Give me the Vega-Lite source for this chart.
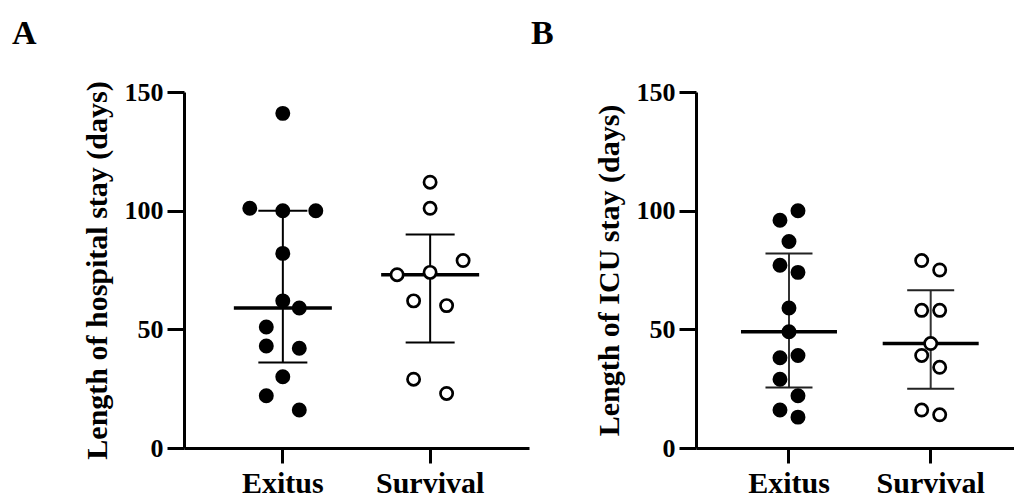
{
  "$schema": "https://vega.github.io/schema/vega-lite/v6.json",
  "autosize": {"type": "pad"},
  "padding": {"left": 12, "top": 17, "right": 0, "bottom": 0},
  "bounds": "flush",
  "spacing": 167,
  "background": "white",
  "config": {
    "view": {"stroke": null},
    "font": "Liberation Serif",
    "axis": {
      "domainColor": "black", "domainWidth": 3, "tickColor": "black", "tickWidth": 3,
      "labelColor": "black", "titleColor": "black",
      "labelFont": "Liberation Serif", "titleFont": "Liberation Serif",
      "labelFontWeight": "bold", "titleFontWeight": "bold",
      "labelFontSize": 26, "titleFontSize": 30, "grid": false
    },
    "axisX": {"tickSize": 15, "labelPadding": 5, "labelAngle": 0, "labelFontSize": 30},
    "axisY": {"tickSize": 17, "labelPadding": 4, "titlePadding": 12},
    "title": {"font": "Liberation Serif", "fontSize": 34, "fontWeight": "bold", "color": "black", "anchor": "start", "frame": "group", "baseline": "alphabetic", "offset": 28}
  },
  "datasets": {
    "hospPoints": [
      {"group": "Exitus", "days": 141, "lane": 0},
      {"group": "Exitus", "days": 101, "lane": -2},
      {"group": "Exitus", "days": 100, "lane": 0},
      {"group": "Exitus", "days": 100, "lane": 2},
      {"group": "Exitus", "days": 82, "lane": 0},
      {"group": "Exitus", "days": 62, "lane": 0},
      {"group": "Exitus", "days": 59, "lane": 1},
      {"group": "Exitus", "days": 51, "lane": -1},
      {"group": "Exitus", "days": 43, "lane": -1},
      {"group": "Exitus", "days": 42, "lane": 1},
      {"group": "Exitus", "days": 30, "lane": 0},
      {"group": "Exitus", "days": 22, "lane": -1},
      {"group": "Exitus", "days": 16, "lane": 1},
      {"group": "Survival", "days": 112, "lane": 0},
      {"group": "Survival", "days": 101, "lane": 0},
      {"group": "Survival", "days": 79, "lane": 2},
      {"group": "Survival", "days": 73, "lane": -2},
      {"group": "Survival", "days": 74, "lane": 0},
      {"group": "Survival", "days": 62, "lane": -1},
      {"group": "Survival", "days": 60, "lane": 1},
      {"group": "Survival", "days": 29, "lane": -1},
      {"group": "Survival", "days": 23, "lane": 1}
    ],
    "hospStats": [
      {"group": "Exitus", "median": 59, "low": 36, "high": 100},
      {"group": "Survival", "median": 73, "low": 44.5, "high": 90}
    ],
    "icuPoints": [
      {"group": "Exitus", "days": 100, "lane": 1},
      {"group": "Exitus", "days": 96, "lane": -1},
      {"group": "Exitus", "days": 87, "lane": 0},
      {"group": "Exitus", "days": 77, "lane": -1},
      {"group": "Exitus", "days": 74, "lane": 1},
      {"group": "Exitus", "days": 59, "lane": 0},
      {"group": "Exitus", "days": 49, "lane": 0},
      {"group": "Exitus", "days": 38, "lane": -1},
      {"group": "Exitus", "days": 39, "lane": 1},
      {"group": "Exitus", "days": 29, "lane": -1},
      {"group": "Exitus", "days": 22, "lane": 1},
      {"group": "Exitus", "days": 16, "lane": -1},
      {"group": "Exitus", "days": 13, "lane": 1},
      {"group": "Survival", "days": 79, "lane": -1},
      {"group": "Survival", "days": 75, "lane": 1},
      {"group": "Survival", "days": 58, "lane": -1},
      {"group": "Survival", "days": 58, "lane": 1},
      {"group": "Survival", "days": 44, "lane": 0},
      {"group": "Survival", "days": 39, "lane": -1},
      {"group": "Survival", "days": 34, "lane": 1},
      {"group": "Survival", "days": 16, "lane": -1},
      {"group": "Survival", "days": 14, "lane": 1}
    ],
    "icuStats": [
      {"group": "Exitus", "median": 49, "low": 25.5, "high": 82},
      {"group": "Survival", "median": 44, "low": 25, "high": 66.5}
    ]
  },
  "resolve": {"scale": {"x": "independent", "y": "independent", "xOffset": "independent", "fill": "independent"}},
  "hconcat": [
    {
      "title": {"text": "A", "dx": -172},
      "width": 345,
      "height": 356,
      "layer": [
        {
          "data": {"name": "hospStats"},
          "mark": {"type": "rule", "color": "black", "strokeWidth": 2},
          "encoding": {
            "x": {"field": "group", "type": "nominal", "scale": {"type": "band", "domain": ["Exitus", "Survival"], "paddingInner": 0, "paddingOuter": 0.171}, "axis": {"title": null}},
            "y": {"field": "low", "type": "quantitative", "scale": {"domain": [0, 150], "nice": false}, "axis": {"values": [0, 50, 100, 150]}, "title": "Length of hospital stay (days)"},
            "y2": {"field": "high"}
          }
        },
        {
          "data": {"name": "hospStats"},
          "mark": {"type": "tick", "orient": "horizontal", "size": 49, "thickness": 2, "color": "black", "opacity": 1},
          "encoding": {
            "x": {"field": "group", "type": "nominal"},
            "y": {"field": "low", "type": "quantitative", "title": "Length of hospital stay (days)"}
          }
        },
        {
          "data": {"name": "hospStats"},
          "mark": {"type": "tick", "orient": "horizontal", "size": 49, "thickness": 2, "color": "black", "opacity": 1},
          "encoding": {
            "x": {"field": "group", "type": "nominal"},
            "y": {"field": "high", "type": "quantitative", "title": "Length of hospital stay (days)"}
          }
        },
        {
          "data": {"name": "hospStats"},
          "mark": {"type": "tick", "orient": "horizontal", "size": 98, "thickness": 3.5, "color": "black", "opacity": 1},
          "encoding": {
            "x": {"field": "group", "type": "nominal"},
            "y": {"field": "median", "type": "quantitative", "title": "Length of hospital stay (days)"}
          }
        },
        {
          "data": {"name": "hospPoints"},
          "mark": {"type": "point", "shape": "circle", "filled": true, "size": 150, "stroke": "black", "strokeWidth": 2.7, "opacity": 1},
          "encoding": {
            "x": {"field": "group", "type": "nominal"},
            "xOffset": {"field": "lane", "type": "quantitative", "scale": {"domain": [-2, 2], "range": [40.6, 106.6]}},
            "y": {"field": "days", "type": "quantitative", "title": "Length of hospital stay (days)"},
            "fill": {"field": "group", "type": "nominal", "scale": {"domain": ["Exitus", "Survival"], "range": ["black", "white"]}, "legend": null}
          }
        }
      ]
    },
    {
      "title": {"text": "B", "dx": -165},
      "width": 318,
      "height": 356,
      "layer": [
        {
          "data": {"name": "icuStats"},
          "mark": {"type": "rule", "color": "#333333", "strokeWidth": 2},
          "encoding": {
            "x": {"field": "group", "type": "nominal", "scale": {"type": "band", "domain": ["Exitus", "Survival"], "paddingInner": 0, "paddingOuter": 0.122, "align": 0.64}, "axis": {"title": null}},
            "y": {"field": "low", "type": "quantitative", "scale": {"domain": [0, 150], "nice": false}, "axis": {"values": [0, 50, 100, 150]}, "title": "Length of ICU stay (days)"},
            "y2": {"field": "high"}
          }
        },
        {
          "data": {"name": "icuStats"},
          "mark": {"type": "tick", "orient": "horizontal", "size": 47, "thickness": 2, "color": "#222222", "opacity": 1},
          "encoding": {
            "x": {"field": "group", "type": "nominal"},
            "y": {"field": "low", "type": "quantitative", "title": "Length of ICU stay (days)"}
          }
        },
        {
          "data": {"name": "icuStats"},
          "mark": {"type": "tick", "orient": "horizontal", "size": 47, "thickness": 2, "color": "#222222", "opacity": 1},
          "encoding": {
            "x": {"field": "group", "type": "nominal"},
            "y": {"field": "high", "type": "quantitative", "title": "Length of ICU stay (days)"}
          }
        },
        {
          "data": {"name": "icuStats"},
          "mark": {"type": "tick", "orient": "horizontal", "size": 96, "thickness": 3.5, "color": "black", "opacity": 1},
          "encoding": {
            "x": {"field": "group", "type": "nominal"},
            "y": {"field": "median", "type": "quantitative", "title": "Length of ICU stay (days)"}
          }
        },
        {
          "data": {"name": "icuPoints"},
          "mark": {"type": "point", "shape": "circle", "filled": true, "size": 150, "stroke": "black", "strokeWidth": 2.7, "opacity": 1},
          "encoding": {
            "x": {"field": "group", "type": "nominal"},
            "xOffset": {"field": "lane", "type": "quantitative", "scale": {"domain": [-1, 1], "range": [61.85, 79.85]}},
            "y": {"field": "days", "type": "quantitative", "title": "Length of ICU stay (days)"},
            "fill": {"field": "group", "type": "nominal", "scale": {"domain": ["Exitus", "Survival"], "range": ["black", "white"]}, "legend": null}
          }
        }
      ]
    }
  ]
}
